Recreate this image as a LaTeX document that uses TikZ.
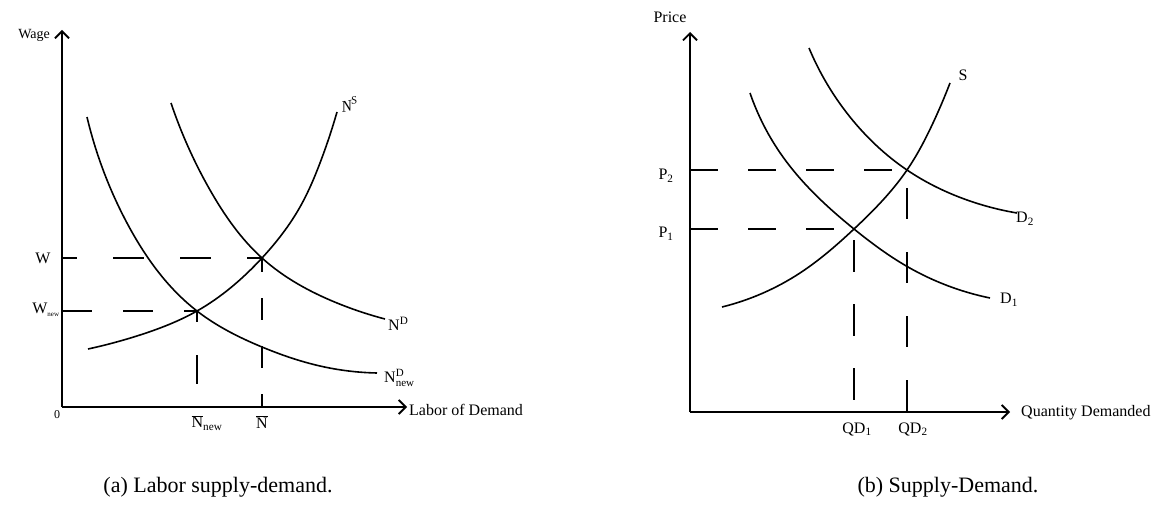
\documentclass[tikz,border=0pt]{standalone}
\usepackage{fontspec}
\setmainfont{Liberation Serif}
\usetikzlibrary{arrows.meta,hobby}
\tikzset{
  ax/.style={line width=1.8pt,-{Straight Barb[length=7pt,width=14pt,line width=1.8pt]}},
  crv/.style={line width=1.6pt,use Hobby shortcut},
  dsh/.style={line width=1.6pt},
  lbl/.style={inner sep=0pt,font=\fontsize{16}{18}\selectfont},
  captxt/.style={inner sep=0pt,font=\fontsize{22}{26}\selectfont}
}
\begin{document}
\begin{tikzpicture}[x=1pt,y=-1pt]
\useasboundingbox (0,0) rectangle (1176,511);
% ---------- left panel ----------
\coordinate (O1) at (62,407);
\coordinate (Y1) at (62,30);
\coordinate (X1) at (407,407);
\coordinate (E1) at (262,258);
\coordinate (E2) at (197,311);
\coordinate (W1) at (62,258);
\coordinate (W2) at (62,311);
\coordinate (B1) at (262,407);
\coordinate (B2) at (197,407);
\draw[ax] (O1) -- (Y1);
\draw[ax] (O1) -- (X1);
\draw[crv] (88,349) .. (140,335) .. (E2) .. (E1) .. (300,207) .. (320,163) .. (337,112);
\draw[crv] (171,103) .. (210,190) .. (E1) .. (337,303) .. (385,319);
\draw[crv] (87,117) .. (127,223) .. (E2) .. (262,347) .. (320,366) .. (377,373);
\draw[dsh,dash pattern=on 31pt off 36pt,dash phase=16pt] (W1) -- (E1);
\draw[dsh,dash pattern=on 30pt off 31pt] (W2) -- (E2);
\draw[dsh,dash pattern=on 22pt off 26pt,dash phase=8pt] (E1) -- (B1);
\draw[dsh,dash pattern=on 11pt off 33pt on 29pt off 100pt] (E2) -- (B2);
\node[lbl,anchor=east] (wage) at (50,35) {\fontsize{14}{16}\selectfont Wage};
\node[lbl] (zero) at (57,415) {\fontsize{12}{14}\selectfont 0};
\node[lbl] (wl) at (43,258) {W};
\node[lbl] (wn) at (46,310) {W\textsubscript{\fontsize{7}{8}\selectfont new}};
\node[lbl] (nn) at (207,423) {$\overline{\hbox{N}}$\textsubscript{new}};
\node[lbl] (nb) at (262,422) {$\overline{\hbox{N}}$};
\node[lbl,rotate=10,anchor=west] (ns) at (341,106) {\itshape N\textsuperscript{S}};
\node[lbl,anchor=west] (nd) at (388,324) {N\textsuperscript{D}};
\node[lbl,anchor=west] (ndn) at (384,378) {N$^{\hbox{\fontsize{11}{12}\selectfont D}}_{\hbox{\fontsize{11}{12}\selectfont new}}$};
\node[lbl,anchor=west] (xl1) at (409,410) {Labor of Demand};
\node[captxt] (ca) at (218,487) {(a) Labor supply-demand.};
% ---------- right panel ----------
\coordinate (O2) at (690,412);
\coordinate (Y2) at (690,32);
\coordinate (X2) at (1010,412);
\coordinate (F1) at (854,229);
\coordinate (F2) at (907,170);
\coordinate (P1) at (690,229);
\coordinate (P2) at (690,170);
\coordinate (Q1) at (854,412);
\coordinate (Q2) at (907,412);
\draw[ax] (O2) -- (Y2);
\draw[ax] (O2) -- (X2);
\draw[crv] (722,307) .. (800,273) .. (F1) .. (F2) .. (933,123) .. (950,83);
\draw[crv] (750,93) .. (783,157) .. (F1) .. (908,267) .. (990,298);
\draw[crv] (809,48) .. (850,117) .. (F2) .. (967,200) .. (1017,213);
\draw[dsh,dash pattern=on 28pt off 30pt] (P2) -- (F2);
\draw[dsh,dash pattern=on 28pt off 30pt] (P1) -- (F1);
\draw[dsh,dash pattern=on 31pt off 33pt,dash phase=46pt] (F2) -- (Q2);
\draw[dsh,dash pattern=on 32pt off 32pt,dash phase=53pt] (F1) -- (Q1);
\node[lbl] (price) at (670,17) {Price};
\node[lbl] (p2) at (666,176) {P\textsubscript{2}};
\node[lbl] (p1) at (666,234) {P\textsubscript{1}};
\node[lbl] (sl) at (963,75) {S};
\node[lbl,anchor=west] (d2) at (1016,219) {D\textsubscript{2}};
\node[lbl,anchor=west] (d1) at (1000,300) {D\textsubscript{1}};
\node[lbl] (qd1) at (857,429) {QD\textsubscript{1}};
\node[lbl] (qd2) at (913,429) {QD\textsubscript{2}};
\node[lbl,anchor=west] (xl2) at (1021,413) {Quantity Demanded};
\node[captxt] (cb) at (948,487) {(b) Supply-Demand.};
\end{tikzpicture}
\end{document}
